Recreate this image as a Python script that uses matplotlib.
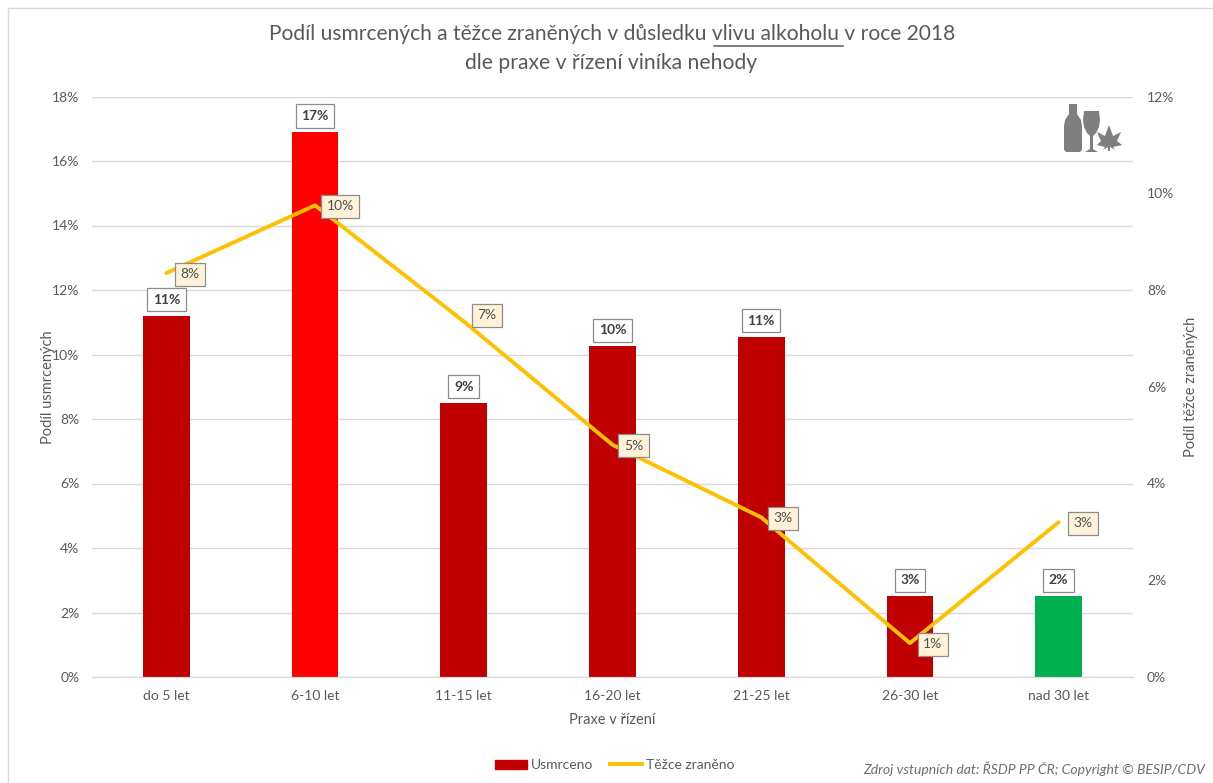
import numpy as np
import matplotlib
matplotlib.use("Agg")
import matplotlib.pyplot as plt
from matplotlib.patches import Polygon, Rectangle
from matplotlib.lines import Line2D

plt.rcParams['font.family'] = ['Lato', 'DejaVu Sans']

categories = ['do 5 let', '6-10 let', '11-15 let', '16-20 let', '21-25 let', '26-30 let', 'nad 30 let']
usmrceno = [11.2, 16.9, 8.5, 10.25, 10.55, 2.5, 2.5]
zraneno = [8.35, 9.75, 7.35, 4.8, 3.3, 0.7, 3.2]
usmrceno_labels = ['11%', '17%', '9%', '10%', '11%', '3%', '2%']
zraneno_labels = ['8%', '10%', '7%', '5%', '3%', '1%', '3%']
bar_colors = ['#c00000', '#ff0000', '#c00000', '#c00000', '#c00000', '#c00000', '#00b050']
zraneno_offsets = [(24, -1), (25, -1), (23, 6), (21, -1), (22, -1), (23, -1), (24, -1)]

W, H = 1213, 783
fig = plt.figure(figsize=(W / 100, H / 100), dpi=100)
ax = fig.add_axes([92 / W, 1 - 677 / H, (1133 - 92) / W, (677 - 96.5) / H])
ax2 = ax.twinx()

x = np.arange(len(categories))
text_c = '#595959'

ax.bar(x, usmrceno, width=0.315, color=bar_colors, zorder=2)
ax.set_xlim(-0.5, 6.5)
ax.set_ylim(0, 18)
ax.set_yticks(range(0, 20, 2))
ax.set_yticklabels([str(v) + '%' for v in range(0, 20, 2)])
ax.set_xticks(x)
ax.set_xticklabels(categories)
ax.grid(axis='y', color='#d9d9d9', linewidth=1)
ax.set_axisbelow(True)
ax.tick_params(length=0, labelsize=10, colors=text_c, pad=9)
ax.tick_params(axis='y', pad=9)
ax.set_xlabel('Praxe v řízení', fontsize=10.5, color=text_c, labelpad=8)
ax.set_ylabel('Podíl usmrcených', fontsize=10.5, color=text_c, labelpad=-2)

ax2.plot(x, zraneno, color='#ffc000', linewidth=2.8, solid_capstyle='round', zorder=3)
ax2.set_ylim(0, 12)
ax2.set_yticks(range(0, 14, 2))
ax2.set_yticklabels([str(v) + '%' for v in range(0, 14, 2)])
ax2.tick_params(length=0, labelsize=10, colors=text_c, pad=10)
ax2.set_ylabel('Podíl těžce zraněných', fontsize=10.5, color=text_c, labelpad=7)

for a in (ax, ax2):
    for s in ('top', 'left', 'right'):
        a.spines[s].set_visible(False)
    a.spines['bottom'].set_color('#d9d9d9')

for i in range(len(x)):
    ax2.annotate(usmrceno_labels[i], (x[i], usmrceno[i] * 12 / 18), xytext=(0, 16),
                 textcoords='offset pixels', ha='center', va='center', fontsize=10,
                 fontweight='bold', color='#404040', zorder=5,
                 bbox=dict(boxstyle='square,pad=0.4', fc='white', ec='#8c8c8c', lw=0.9))
    ax2.annotate(zraneno_labels[i], (x[i], zraneno[i]), xytext=zraneno_offsets[i],
                 textcoords='offset pixels', ha='center', va='center', fontsize=10,
                 color='#505050', zorder=6,
                 bbox=dict(boxstyle='square,pad=0.4', fc='#fff2d9', ec='#8c8c8c', lw=0.9))

# title, one word is underlined
fig.text(612 / W, 1 - 34 / H, 'Podíl usmrcených a těžce zraněných v důsledku vlivu alkoholu v roce 2018',
         ha='center', va='center', fontsize=15.1, color=text_c)
fig.text(611 / W, 1 - 63 / H, 'dle praxe v řízení viníka nehody',
         ha='center', va='center', fontsize=15.2, color=text_c)
fig.add_artist(Line2D([714 / W, 843 / W], [1 - 46 / H, 1 - 46 / H], color=text_c, lw=1.1))

# legend
ax.legend(handles=[Rectangle((0, 0), 1, 1, color='#c00000'),
                   Line2D([0], [0], color='#ffc000', lw=2.8)],
          labels=['Usmrceno', 'Těžce zraněno'], ncol=2, frameon=False, fontsize=10,
          labelcolor=text_c, loc='center', bbox_to_anchor=(615 / W, 1 - 765 / H),
          bbox_transform=fig.transFigure, handlelength=2.3, handleheight=0.6,
          columnspacing=1.2, handletextpad=0.3)

fig.text(1205 / W, 1 - 769 / H, 'Zdroj vstupních dat: ŘSDP PP ČR; Copyright © BESIP/CDV',
         ha='right', va='center', fontsize=10.1, style='italic', color='#6e6e6e')

# outer chart frame, only left and top are visible
fig.add_artist(Line2D([7.5 / W, 7.5 / W], [0, 1 - 7.5 / H], color='#d9d9d9', lw=1))
fig.add_artist(Line2D([7.5 / W, 1], [1 - 7.5 / H, 1 - 7.5 / H], color='#d9d9d9', lw=1))

# icon: bottle, glass and leaf, in pixels of the picture
def px(pts):
    return [(a / W, 1 - b / H) for a, b in pts]

grey = '#7f7f7f'
bottle = [(1069, 104), (1077, 104), (1077, 114), (1081, 120), (1082, 126), (1082, 150),
          (1080, 152), (1066, 152), (1064, 150), (1064, 126), (1065, 120), (1069, 114)]
glass = [(1084, 111), (1099, 111), (1100, 120), (1099, 127), (1096, 133), (1093, 136), (1093, 149),
         (1098, 152), (1085, 152), (1090, 149), (1090, 136), (1087, 133), (1084, 127), (1083, 120)]
leaf = [(1109, 125), (1113, 136), (1121, 132), (1117, 141), (1122, 145), (1113, 147), (1115, 150),
        (1110, 147), (1110, 151), (1108, 151), (1108, 147), (1103, 150), (1105, 147), (1097, 145),
        (1101, 141), (1097, 132), (1105, 136)]
for shape in (bottle, glass, leaf):
    fig.add_artist(Polygon(px(shape), closed=True, fc=grey, ec='none', transform=fig.transFigure))

fig.savefig('out.png', dpi=100)
